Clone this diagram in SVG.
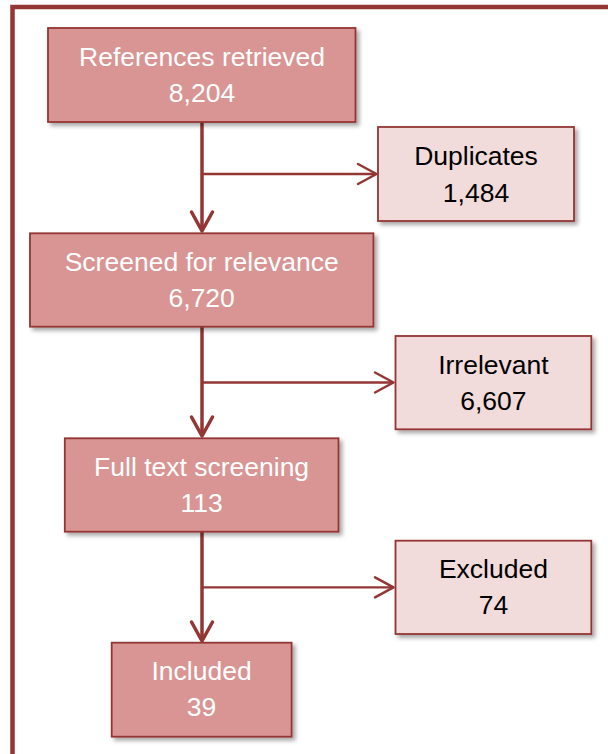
<svg xmlns="http://www.w3.org/2000/svg" width="608" height="754" viewBox="0 0 608 754">
<defs>
<style>
.main{fill:#D99594;stroke:#943634;stroke-width:1.8;filter:url(#sh)}
.side{fill:#F2DBDB;stroke:#943634;stroke-width:1.8;filter:url(#sh)}
.tw{font-family:"Liberation Sans",Arial,sans-serif;font-size:26.5px;fill:#FFFFFF;text-anchor:middle}
.tb{font-family:"Liberation Sans",Arial,sans-serif;font-size:26.5px;fill:#000000;text-anchor:middle}
.v{stroke:#943634;stroke-width:3.5;fill:none}
.h{stroke:#943634;stroke-width:2.3;fill:none}
.ah{stroke:#943634;stroke-width:3.5;fill:none;stroke-linecap:round;stroke-linejoin:round}
.ahh{stroke:#943634;stroke-width:2.5;fill:none;stroke-linecap:round;stroke-linejoin:round}
</style>
<filter id="sh" x="-10%" y="-10%" width="130%" height="140%">
<feDropShadow dx="3" dy="3" stdDeviation="2.2" flood-color="#000000" flood-opacity="0.35"/>
</filter>
</defs>
<rect x="12.5" y="7" width="620" height="780" fill="none" stroke="#943634" stroke-width="4.5"/>
<g id="connectors">
<line class="v" x1="202" y1="122" x2="202" y2="231"/>
<polyline class="ah" points="191.5,212 202,231 212.5,212"/>
<line class="h" x1="202" y1="174" x2="376" y2="174"/>
<polyline class="ahh" points="358,164 376.5,174 358,184"/>
<line class="v" x1="202" y1="327" x2="202" y2="436"/>
<polyline class="ah" points="191.5,417 202,436 212.5,417"/>
<line class="h" x1="202" y1="382.5" x2="393" y2="382.5"/>
<polyline class="ahh" points="375,372.5 393.5,382.5 375,392.5"/>
<line class="v" x1="202" y1="532" x2="202" y2="641"/>
<polyline class="ah" points="191.5,622 202,641 212.5,622"/>
<line class="h" x1="202" y1="587.3" x2="393" y2="587.3"/>
<polyline class="ahh" points="375,577.3 393.5,587.3 375,597.3"/>
</g>
<g id="references">
<rect class="main" x="48" y="28" width="307.5" height="94"/>
<text class="tw" x="202" y="65.5">References retrieved</text>
<text class="tw" x="202" y="101.7">8,204</text>
</g>
<g id="duplicates">
<rect class="side" x="378" y="127" width="196" height="94"/>
<text class="tb" x="476" y="165">Duplicates</text>
<text class="tb" x="476" y="201.5">1,484</text>
</g>
<g id="screened">
<rect class="main" x="30" y="233.3" width="343.4" height="93.4"/>
<text class="tw" x="201.7" y="270.5">Screened for relevance</text>
<text class="tw" x="201.7" y="306.7">6,720</text>
</g>
<g id="irrelevant">
<rect class="side" x="395.5" y="336" width="195.8" height="93.3"/>
<text class="tb" x="493.4" y="373.5">Irrelevant</text>
<text class="tb" x="493.4" y="409.8">6,607</text>
</g>
<g id="fulltext">
<rect class="main" x="64.8" y="438.3" width="273.7" height="93.4"/>
<text class="tw" x="201.6" y="475.5">Full text screening</text>
<text class="tw" x="201.6" y="511.8">113</text>
</g>
<g id="excluded">
<rect class="side" x="395.5" y="540.7" width="195.8" height="93.3"/>
<text class="tb" x="493.4" y="578">Excluded</text>
<text class="tb" x="493.4" y="614.3">74</text>
</g>
<g id="included">
<rect class="main" x="111.7" y="642.7" width="179.9" height="94"/>
<text class="tw" x="201.6" y="680">Included</text>
<text class="tw" x="201.6" y="716.3">39</text>
</g>
</svg>
